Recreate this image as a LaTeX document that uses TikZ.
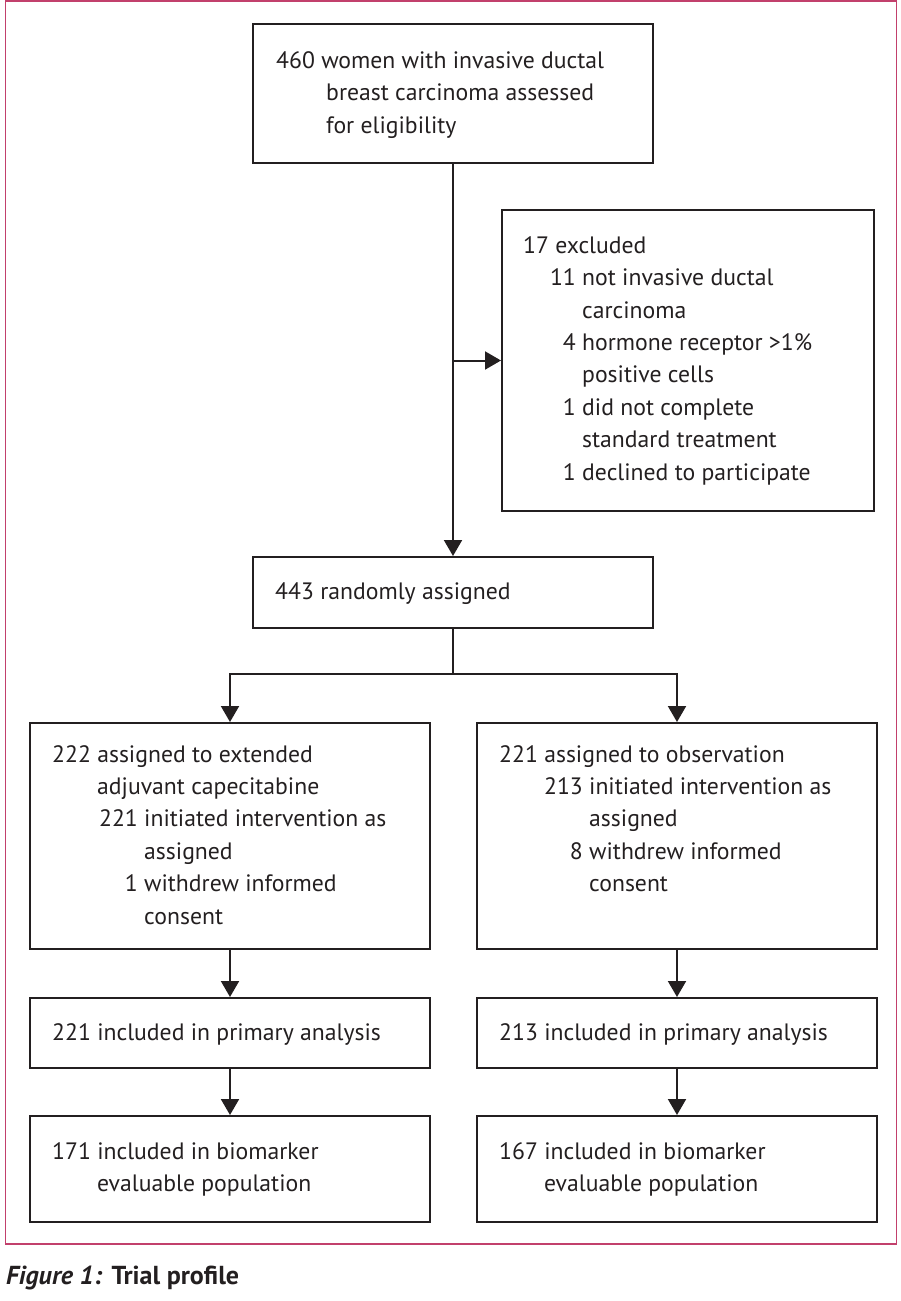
\documentclass[tikz,border=0pt]{standalone}
\usepackage{fontspec}
\setmainfont{PT Sans}
\usetikzlibrary{arrows.meta}
\definecolor{framecol}{HTML}{C2406C}
\definecolor{ink}{HTML}{231F20}
\newcommand\numcol[2]{\makebox[#1pt][r]{#2\ }}
\begin{document}
\begin{tikzpicture}[x=1pt,y=-1pt,
  box/.style={draw=ink, line width=2pt, rectangle, inner sep=0pt, anchor=north west},
  txt/.style={anchor=base west, inner sep=0pt, align=left, font=\fontsize{23.7}{32.4}\selectfont, text=ink},
  arr/.style={draw=ink, line width=2pt, -{Triangle[length=16pt,width=18pt]}},
  ln/.style={draw=ink, line width=2pt}]
\useasboundingbox (0,0) rectangle (901,1301);
\draw[framecol, line width=1.6pt] (5.5,0.8) rectangle (896.5,1244);
% boxes
\node[box, minimum width=400pt, minimum height=138.5pt] (b1) at (252,23) {};
\node[box, minimum width=372pt, minimum height=301pt] (ex) at (501,209) {};
\node[box, minimum width=400pt, minimum height=71pt] (b443) at (252,556) {};
\node[box, minimum width=400pt, minimum height=226pt] (L1) at (29,722) {};
\node[box, minimum width=400pt, minimum height=226pt] (R1) at (476,722) {};
\node[box, minimum width=400pt, minimum height=70pt] (L2) at (29,997) {};
\node[box, minimum width=400pt, minimum height=70pt] (R2) at (476,997) {};
\node[box, minimum width=400pt, minimum height=106pt] (L3) at (29,1115) {};
\node[box, minimum width=400pt, minimum height=106pt] (R3) at (476,1115) {};
% texts (anchor = baseline of the last line)
\node[txt] (t1) at (276,133.1) {460 women with invasive ductal\\
  \hspace*{50pt}breast carcinoma assessed\\
  \hspace*{50pt}for eligibility};
\node[txt] (tex) at (523,480) {17 excluded\\
  \numcol{59}{11}not invasive ductal\\
  \hspace*{59pt}carcinoma\\
  \numcol{59}{4}hormone receptor >1\%\\
  \hspace*{59pt}positive cells\\
  \numcol{59}{1}did not complete\\
  \hspace*{59pt}standard treatment\\
  \numcol{59}{1}declined to participate};
\node[txt] (t443) at (275,599.5) {443 randomly assigned};
\node[txt] (tL1) at (52,924) {222 assigned to extended\\
  \hspace*{45pt}adjuvant capecitabine\\
  \numcol{92}{221}initiated intervention as\\
  \hspace*{92pt}assigned\\
  \numcol{92}{1}withdrew informed\\
  \hspace*{92pt}consent};
\node[txt] (tR1) at (499,891.6) {221 assigned to observation\\
  \numcol{90}{213}initiated intervention as\\
  \hspace*{90pt}assigned\\
  \numcol{90}{8}withdrew informed\\
  \hspace*{90pt}consent};
\node[txt] (tL2) at (52,1040) {221 included in primary analysis};
\node[txt] (tR2) at (499,1040) {213 included in primary analysis};
\node[txt] (tL3) at (52,1191.4) {171 included in biomarker\\
  \hspace*{45pt}evaluable population};
\node[txt] (tR3) at (499,1191.4) {167 included in biomarker\\
  \hspace*{45pt}evaluable population};
\node[anchor=base west, inner sep=0pt, text=ink, font=\fontsize{26}{30}\selectfont] (cap) at (6,1284)
  {\textbf{\textit{Figure 1:}} \textbf{Trial profile}};
% connectors
\draw[arr] (b1.south) -- (b443.north);
\coordinate (j1) at (b1.south |- ex.west);
\draw[arr] (j1) -- (ex.west);
\coordinate (yl) at (0,674);
\coordinate (split) at (b443.south |- yl);
\draw[ln] (b443.south) -- (split);
\draw[arr] (split) -| (L1.north);
\draw[arr] (split) -| (R1.north);
\draw[arr] (L1.south) -- (L2.north);
\draw[arr] (R1.south) -- (R2.north);
\draw[arr] (L2.south) -- (L3.north);
\draw[arr] (R2.south) -- (R3.north);
\end{tikzpicture}
\end{document}
